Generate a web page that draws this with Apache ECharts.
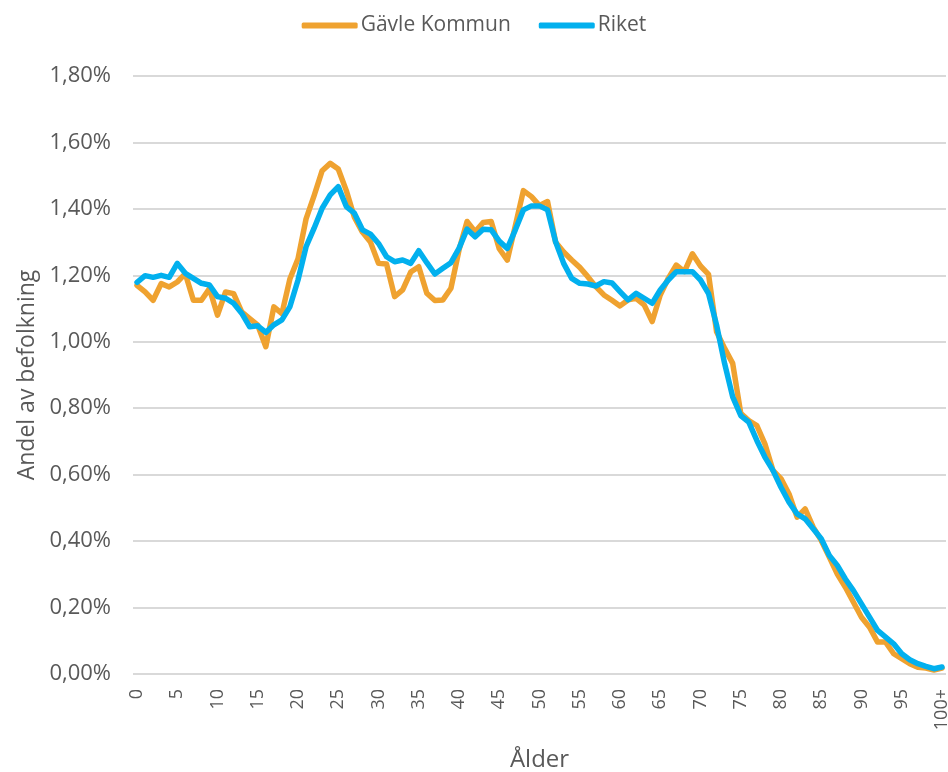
<!DOCTYPE html>
<html>
<head>
<meta charset="utf-8">
<script src="https://cdn.jsdelivr.net/npm/echarts@6/dist/echarts.min.js"></script>
<style>
  html, body { margin: 0; padding: 0; background: #fff; }
  #chart { width: 948px; height: 772px; }
</style>
</head>
<body>
<div id="chart"></div>
<script>
// åldrar 0..99 samt 100+
const ages = []
for (let i = 0; i < 100; i++) ages.push(String(i))
ages.push('100+')

// andel av befolkningen i procent
const gavle = [
    1.17, 1.15, 1.125, 1.175, 1.165, 1.18, 1.205, 1.125, 1.125, 1.16,
    1.08, 1.15, 1.145, 1.09, 1.07, 1.05, 0.985, 1.105, 1.085, 1.19,
    1.25, 1.37, 1.44, 1.515, 1.537, 1.52, 1.455, 1.375, 1.33, 1.30,
    1.236, 1.234, 1.136, 1.156, 1.21, 1.226, 1.146, 1.124, 1.126, 1.161,
    1.276, 1.362, 1.331, 1.359, 1.362, 1.28, 1.246, 1.35, 1.455, 1.437,
    1.41, 1.422, 1.30, 1.27, 1.246, 1.224, 1.196, 1.166, 1.141, 1.125,
    1.108, 1.126, 1.131, 1.111, 1.061, 1.141, 1.191, 1.231, 1.211, 1.265,
    1.228, 1.203, 1.03, 0.98, 0.935, 0.785, 0.763, 0.748, 0.693, 0.613,
    0.588, 0.542, 0.472, 0.497, 0.442, 0.402, 0.352, 0.301, 0.261, 0.216,
    0.171, 0.141, 0.096, 0.096, 0.061, 0.046, 0.031, 0.020, 0.018, 0.012,
    0.018
]

const riket = [
    1.179, 1.199, 1.194, 1.20, 1.194, 1.236, 1.206, 1.191, 1.176, 1.171,
    1.136, 1.131, 1.116, 1.086, 1.045, 1.048, 1.028, 1.051, 1.066, 1.106,
    1.186, 1.286, 1.342, 1.402, 1.442, 1.467, 1.407, 1.387, 1.337, 1.324,
    1.296, 1.256, 1.241, 1.246, 1.236, 1.274, 1.238, 1.204, 1.221, 1.238,
    1.281, 1.339, 1.316, 1.339, 1.337, 1.303, 1.281, 1.337, 1.397, 1.409,
    1.409, 1.397, 1.301, 1.236, 1.191, 1.176, 1.174, 1.168, 1.181, 1.177,
    1.151, 1.126, 1.146, 1.131, 1.116, 1.156, 1.186, 1.211, 1.211, 1.211,
    1.186, 1.145, 1.05, 0.934, 0.834, 0.778, 0.758, 0.703, 0.653, 0.613,
    0.562, 0.517, 0.482, 0.467, 0.437, 0.407, 0.357, 0.327, 0.286, 0.251,
    0.211, 0.171, 0.131, 0.111, 0.091, 0.061, 0.043, 0.031, 0.023, 0.016,
    0.021
]

const font = '"Open Sans", "Noto Sans", sans-serif'
const textColor = '#595959'
const orange = '#EFA230'
const blue = '#02B0EE'

// 1.8 -> "1,80%"
function pct (v) {
    return v.toFixed(2).replace('.', ',') + '%'
}

const chart = echarts.init(document.getElementById('chart'))
chart.setOption({
    animation: false,
    textStyle: { fontFamily: font },
    legend: {
        top: 10,
        left: 'center',
        itemWidth: 56,
        itemHeight: 6,
        itemGap: 28,
        icon: 'roundRect',
        textStyle: { fontSize: 21, color: textColor, padding: [0, 0, 0, -2] },
        data: ['Gävle Kommun', 'Riket']
    },
    grid: { left: 133, right: 2, top: 76, bottom: 98, outerBoundsMode: 'none' },
    xAxis: {
        type: 'category',
        data: ages,
        boundaryGap: true,
        name: 'Ålder',
        nameLocation: 'middle',
        nameGap: 74,
        nameTextStyle: { fontSize: 24, color: textColor },
        axisLine: { show: false },
        axisTick: { show: false },
        axisLabel: {
            interval: 4,
            rotate: 90,
            fontSize: 18,
            color: textColor,
            margin: 15
        }
    },
    yAxis: {
        type: 'value',
        min: 0,
        max: 1.8,
        interval: 0.2,
        name: 'Andel av befolkning',
        nameLocation: 'middle',
        nameGap: 94,
        nameTextStyle: { fontSize: 23, color: textColor },
        axisLabel: { formatter: pct, fontSize: 22, color: textColor, margin: 22 },
        splitLine: { lineStyle: { color: '#d9d9d9', width: 2 } }
    },
    series: [
        {
            name: 'Gävle Kommun',
            type: 'line',
            data: gavle,
            symbol: 'none',
            lineStyle: { width: 5.5, color: orange, cap: 'round', join: 'round' },
            itemStyle: { color: orange }
        },
        {
            name: 'Riket',
            type: 'line',
            data: riket,
            symbol: 'none',
            lineStyle: { width: 5.5, color: blue, cap: 'round', join: 'round' },
            itemStyle: { color: blue }
        }
    ]
})
</script>
</body>
</html>
